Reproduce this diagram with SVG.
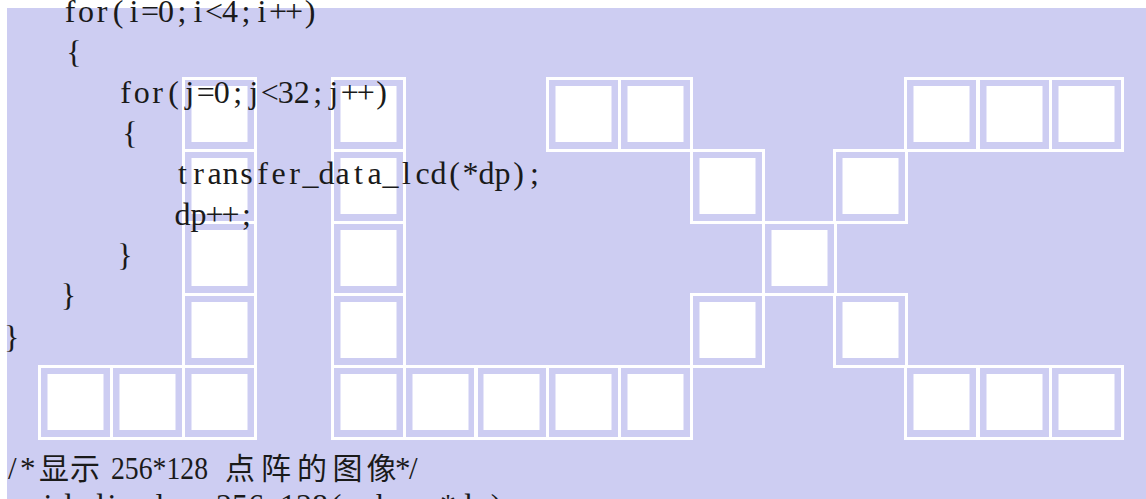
<svg xmlns="http://www.w3.org/2000/svg" xmlns:xlink="http://www.w3.org/1999/xlink" width="1146" height="499" viewBox="0 0 1146 499">
<style>
.code{font-family:"Liberation Serif","Times New Roman",serif;font-size:32px;fill:#1a1a1a;text-anchor:middle}
.cmt{font-family:"Liberation Serif","Times New Roman",serif;font-size:31px;fill:#1a1a1a}
.cjk{font-family:"Noto Sans CJK SC","Noto Sans CJK TC",sans-serif;font-size:30px;fill:#1a1a1a;text-anchor:middle}
</style>
<defs>
<g id="cell">
<rect x="1.5" y="1.5" width="72" height="72" fill="none" stroke="#ffffff" stroke-width="3"/>
<rect x="9.5" y="9" width="56" height="56" fill="#ffffff"/>
</g>
</defs>
<rect x="0" y="0" width="1146" height="499" fill="#ffffff"/>
<rect id="panel" x="7" y="8" width="1139" height="491" fill="#cdcdf2"/>
<g id="letter-J">
<use xlink:href="#cell" x="182" y="77"/>
<use xlink:href="#cell" x="182" y="149"/>
<use xlink:href="#cell" x="182" y="221"/>
<use xlink:href="#cell" x="182" y="293"/>
<use xlink:href="#cell" x="182" y="365"/>
<use xlink:href="#cell" x="38" y="365"/>
<use xlink:href="#cell" x="110" y="365"/>
</g>
<g id="letter-L">
<use xlink:href="#cell" x="331" y="77"/>
<use xlink:href="#cell" x="331" y="149"/>
<use xlink:href="#cell" x="331" y="221"/>
<use xlink:href="#cell" x="331" y="293"/>
<use xlink:href="#cell" x="331" y="365"/>
<use xlink:href="#cell" x="403" y="365"/>
<use xlink:href="#cell" x="474" y="365"/>
<use xlink:href="#cell" x="546" y="365"/>
<use xlink:href="#cell" x="618" y="365"/>
</g>
<g id="letter-X">
<use xlink:href="#cell" x="546" y="77"/>
<use xlink:href="#cell" x="618" y="77"/>
<use xlink:href="#cell" x="904" y="77"/>
<use xlink:href="#cell" x="977" y="77"/>
<use xlink:href="#cell" x="1049" y="77"/>
<use xlink:href="#cell" x="690" y="149"/>
<use xlink:href="#cell" x="833" y="149"/>
<use xlink:href="#cell" x="762" y="221"/>
<use xlink:href="#cell" x="690" y="293"/>
<use xlink:href="#cell" x="833" y="293"/>
<use xlink:href="#cell" x="904" y="365"/>
<use xlink:href="#cell" x="977" y="365"/>
<use xlink:href="#cell" x="1049" y="365"/>
</g>
<g id="code">
<text class="code" y="22" x="70 86 102 118 134 150 166 182 198 214 230 246 262 278 294 310">for(i=0;i&lt;4;i++)</text>
<text class="code" y="62.6" x="74">{</text>
<text class="code" y="103.2" x="125.7 141.7 157.7 173.7 189.7 205.7 221.7 237.7 253.7 269.7 285.7 301.7 317.7 333.7 349.7 365.7 381.7">for(j=0;j&lt;32;j++)</text>
<text class="code" y="143.8" x="130">{</text>
<text class="code" y="184.4" x="182.5 198.5 214.5 230.5 246.5 262.5 278.5 294.5 310.5 326.5 342.5 358.5 374.5 390.5 406.5 422.5 438.5 454.5 470.5 486.5 502.5 518.5 534.5">transfer_data_lcd(*dp);</text>
<text class="code" y="225" x="182.5 198.5 214.5 230.5 246.5">dp++;</text>
<text class="code" y="265.6" x="125">}</text>
<text class="code" y="306.2" x="68.5">}</text>
<text class="code" y="347.5" x="11.7">}</text>
</g>
<g id="comment">
<text class="cmt" y="479" x="8 20">/*</text>
<text class="cjk" y="479" x="54 85">显示</text>
<text class="cmt" y="479" x="111" textLength="97" lengthAdjust="spacingAndGlyphs">256*128</text>
<text class="cjk" y="479" x="240 276 312 347.5 381.5">点阵的图像</text>
<text class="cmt" y="479" x="395 409">*/</text>
<text class="code" y="516" x="16 32 48 64 80 96 112 128 144 160 176 192 208 224 240 256 272 288 304 320 336 352 368 384 400 416 432 448 464 480 496 512 528">void display_256_128(uchar *dp)</text>
</g>
</svg>
